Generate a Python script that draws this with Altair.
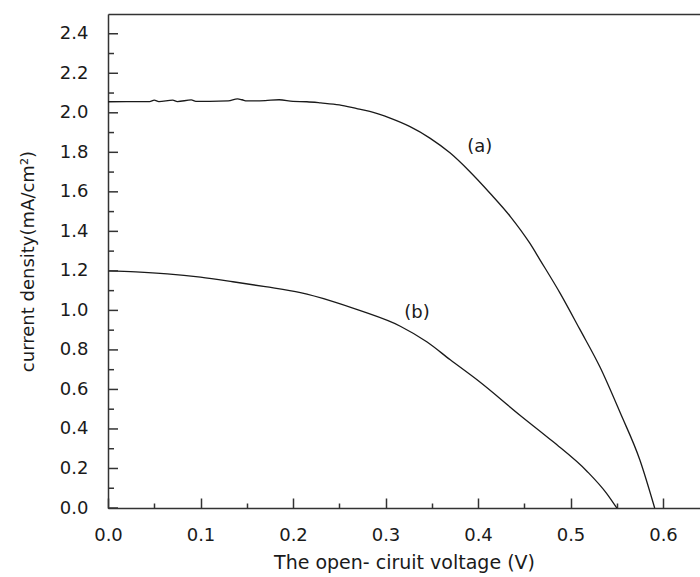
import altair as alt
import pandas as pd

# ---- data ----
a_v = [0.000, 0.020, 0.045, 0.050, 0.055, 0.070, 0.075, 0.090, 0.095, 0.110, 0.130,
       0.140, 0.145, 0.150, 0.170, 0.185, 0.200, 0.215, 0.230, 0.250, 0.270, 0.283,
       0.305, 0.326, 0.348, 0.370, 0.391, 0.413, 0.435, 0.456, 0.467, 0.489, 0.510,
       0.532, 0.554, 0.575, 0.591]
a_j = [2.056, 2.057, 2.057, 2.064, 2.057, 2.064, 2.057, 2.065, 2.058, 2.058, 2.060,
       2.070, 2.066, 2.060, 2.062, 2.066, 2.058, 2.056, 2.050, 2.040, 2.020, 2.007,
       1.973, 1.931, 1.872, 1.796, 1.703, 1.593, 1.475, 1.340, 1.256, 1.085, 0.905,
       0.712, 0.479, 0.243, 0.000]

b_v = [0.000, 0.030, 0.064, 0.100, 0.135, 0.170, 0.208, 0.240, 0.272, 0.316, 0.345,
       0.370, 0.400, 0.445, 0.481, 0.518, 0.539, 0.550]
b_j = [1.200, 1.195, 1.185, 1.168, 1.145, 1.120, 1.090, 1.050, 1.000, 0.920, 0.840,
       0.750, 0.645, 0.471, 0.336, 0.185, 0.074, 0.000]

label_text = ["(a)", "(b)"]
label_v = [0.402, 0.334]
label_j = [1.828, 0.987]

x_major = [0.0, 0.1, 0.2, 0.3, 0.4, 0.5, 0.6]
x_minor = [0.05, 0.15, 0.25, 0.35, 0.45, 0.55]
y_major = [0.0, 0.2, 0.4, 0.6, 0.8, 1.0, 1.2, 1.4, 1.6, 1.8, 2.0, 2.2, 2.4]
y_minor = [0.1, 0.3, 0.5, 0.7, 0.9, 1.1, 1.3, 1.5, 1.7, 1.9, 2.1, 2.3]
x_max = 0.64
y_max = 2.5

FONT = "DejaVu Sans"
INK = "#1a1a1a"
AX = "#333333"

curves = pd.concat([
    pd.DataFrame({"v": a_v, "j": a_j, "s": "a", "o": range(len(a_v))}),
    pd.DataFrame({"v": b_v, "j": b_j, "s": "b", "o": range(len(b_v))}),
])
labels = pd.DataFrame({"t": label_text, "v": label_v, "j": label_j})

xs = alt.Scale(domain=[0, x_max], nice=False, zero=False)
ys = alt.Scale(domain=[0, y_max], nice=False, zero=False)

# main bottom axis: drawn 10px inside so that its ticks point inward
x_axis = alt.Axis(orient="bottom", offset=-10, values=x_major, format=".1f",
                  ticks=True, tickSize=10, tickWidth=1.5, tickColor=AX, grid=False,
                  domain=False, labelFlush=False, labelPadding=18, labelFontSize=18,
                  labelFont=FONT, labelColor=INK,
                  title="The open- ciruit voltage (V)", titleFont=FONT, titleFontSize=19,
                  titleFontWeight="normal", titleColor=INK, titlePadding=9)
# minor inward ticks
x_minor_axis = alt.Axis(orient="bottom", offset=-5, values=x_minor, ticks=True,
                        tickSize=5, tickWidth=1.5, tickColor=AX, grid=False,
                        domain=False, labels=False, title=None)
# bottom domain line
x_domain_axis = alt.Axis(orient="bottom", values=x_major, ticks=False, grid=False,
                         domain=True, domainColor=AX, domainWidth=1.5,
                         labels=False, title=None)
# top frame line
x_top_axis = alt.Axis(orient="top", values=x_major, ticks=False, grid=False,
                      domain=True, domainColor=AX, domainWidth=1.5,
                      labels=False, title=None)

y_axis = alt.Axis(values=y_major, format=".1f", ticks=False, tickSize=0, grid=False,
                  labelFlush=False, labelPadding=20, labelFontSize=18, labelFont=FONT,
                  labelColor=INK, domainColor=AX, domainWidth=1.5,
                  title="current density(mA/cm²)", titleFont=FONT, titleFontSize=18,
                  titleFontWeight="normal", titleColor=INK, titlePadding=22)

lines = alt.Chart(curves).mark_line(color=INK, strokeWidth=1.3, interpolate="monotone").encode(
    x=alt.X("v:Q", scale=xs, axis=x_axis),
    y=alt.Y("j:Q", scale=ys, axis=y_axis),
    detail="s:N",
    order="o:Q",
)

text = alt.Chart(labels).mark_text(font=FONT, fontSize=18, color=INK).encode(
    x=alt.X("v:Q", scale=xs, axis=x_top_axis),
    y=alt.Y("j:Q", scale=ys),
    text="t:N",
)

ytm = alt.Chart(pd.DataFrame({"yv": y_major})).mark_rule(color=AX, strokeWidth=1.5).encode(
    y=alt.Y("yv:Q", scale=ys), x=alt.value(0), x2=alt.value(10))
ytn = alt.Chart(pd.DataFrame({"yv": y_minor})).mark_rule(color=AX, strokeWidth=1.5).encode(
    y=alt.Y("yv:Q", scale=ys), x=alt.value(0), x2=alt.value(6))

xmin_layer = alt.Chart(pd.DataFrame({"xv": x_minor, "yv": [0.0] * len(x_minor)})).mark_point(
    opacity=0, size=1).encode(
    x=alt.X("xv:Q", scale=xs, axis=x_minor_axis), y=alt.Y("yv:Q", scale=ys))
xdom_layer = alt.Chart(pd.DataFrame({"xv": x_major, "yv": [0.0] * len(x_major)})).mark_point(
    opacity=0, size=1).encode(
    x=alt.X("xv:Q", scale=xs, axis=x_domain_axis), y=alt.Y("yv:Q", scale=ys))

chart = alt.layer(lines, text, ytm, ytn, xmin_layer, xdom_layer).resolve_axis(
    x="independent"
).properties(
    width=592, height=494,
    autosize=alt.AutoSizeParams(type="none"),
    padding={"left": 108, "top": 14, "right": 0, "bottom": 69},
).configure_view(stroke=None).configure(background="white")

chart.save("out.html", embed_options={"renderer": "svg", "actions": False})
